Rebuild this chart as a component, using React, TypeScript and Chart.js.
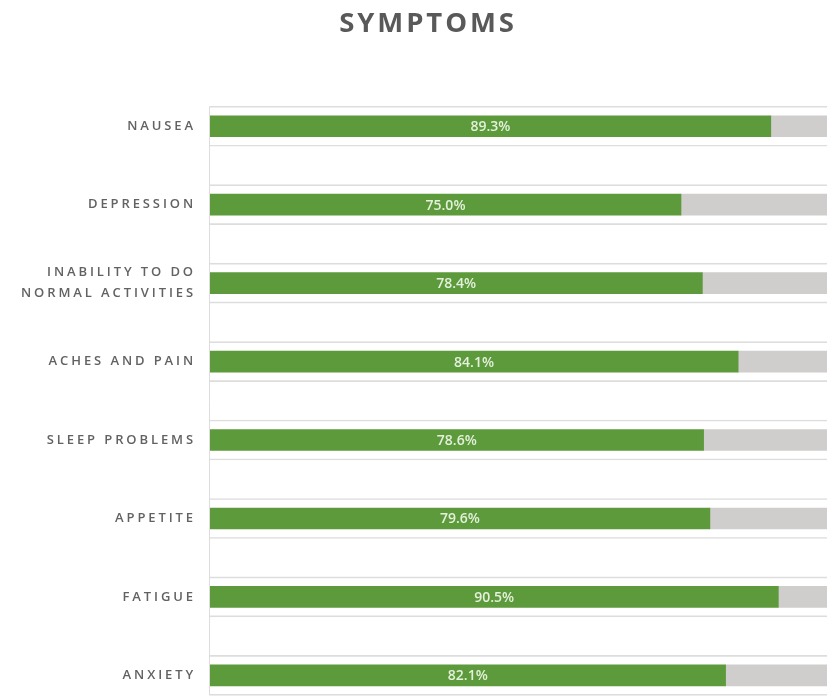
import React, { useEffect, useRef } from 'react';
import { Chart, registerables } from 'chart.js';

Chart.register(...registerables);

const categories: (string | string[])[] = [
  'NAUSEA',
  'DEPRESSION',
  ['INABILITY TO DO', 'NORMAL ACTIVITIES'],
  'ACHES AND PAIN',
  'SLEEP PROBLEMS',
  'APPETITE',
  'FATIGUE',
  'ANXIETY',
];
const values = [89.3, 75.0, 78.4, 84.1, 78.6, 79.6, 90.5, 82.1];
const remainder = values.map((v) => Math.round((100 - v) * 10) / 10);
const frame = values.map(() => 100);

const GREEN = '#5c9a3b';
const GRAY = '#d0cdcd';
const LINE = '#dedddd';
const TEXT = '#595959';
const TICK_TEXT = '#626262';
const FRAME_THICKNESS = 40;

const spacingPlugin = {
  id: 'spacing',
  beforeDraw(chart: any) {
    chart.ctx.letterSpacing = '2.9px';
  },
  afterDraw(chart: any) {
    chart.ctx.letterSpacing = '0px';
  },
};

const framePlugin = {
  id: 'frameLine',
  beforeDatasetsDraw(chart: any) {
    const x = chart.scales.x;
    const y = chart.scales.y;
    const ctx = chart.ctx;
    const left = Math.round(x.getPixelForValue(0)) - 0.5;
    const top = y.getPixelForValue(0) - FRAME_THICKNESS / 2;
    const bottom = y.getPixelForValue(categories.length - 1) + FRAME_THICKNESS / 2;
    ctx.save();
    ctx.strokeStyle = LINE;
    ctx.lineWidth = 1;
    ctx.beginPath();
    ctx.moveTo(left, top);
    ctx.lineTo(left, bottom);
    ctx.stroke();
    ctx.restore();
  },
};

const labelPlugin = {
  id: 'valueLabels',
  afterDatasetsDraw(chart: any) {
    const ctx = chart.ctx;
    const meta = chart.getDatasetMeta(0);
    ctx.save();
    ctx.letterSpacing = '0px';
    ctx.font = '600 14px "Open Sans", sans-serif';
    ctx.fillStyle = '#e4f0dc';
    ctx.textAlign = 'center';
    ctx.textBaseline = 'middle';
    meta.data.forEach((bar: any, i: number) => {
      const c = bar.getCenterPoint();
      ctx.fillText(values[i].toFixed(1) + '%', c.x, c.y + 1);
    });
    ctx.restore();
  },
};

function SymptomsChart() {
  const ref = useRef<HTMLCanvasElement | null>(null);
  useEffect(() => {
    if (!ref.current) return;
    const chart = new Chart(ref.current, {
      type: 'bar',
      data: {
        labels: categories as any,
        datasets: [
          {
            label: 'Yes',
            data: values,
            backgroundColor: GREEN,
            barThickness: 21,
            grouped: false,
            yAxisID: 'y',
            stack: 'main',
            order: 1,
          },
          {
            label: 'No',
            data: remainder,
            backgroundColor: GRAY,
            barThickness: 21,
            grouped: false,
            yAxisID: 'y',
            stack: 'main',
            order: 1,
          },
          {
            label: 'frame',
            data: frame,
            backgroundColor: 'rgba(255,255,255,0)',
            borderColor: LINE,
            borderWidth: { top: 1, bottom: 1, left: 0, right: 0 } as any,
            borderSkipped: false,
            barThickness: FRAME_THICKNESS,
            grouped: false,
            yAxisID: 'y2',
            stack: 'bg',
            order: 2,
          },
        ],
      },
      options: {
        indexAxis: 'y',
        animation: false,
        responsive: false,
        maintainAspectRatio: false,
        layout: { padding: { left: 18, right: 0, top: 0, bottom: 0 } },
        plugins: {
          legend: { display: false },
          tooltip: { enabled: false },
          title: {
            display: true,
            text: 'SYMPTOMS',
            color: TEXT,
            font: { family: '"Open Sans", sans-serif', size: 27.5, weight: 'bold' },
            padding: { top: 8, bottom: 46 },
          },
        },
        scales: {
          x: {
            display: false,
            stacked: true,
            min: 0,
            max: 100,
          },
          y: {
            type: 'category',
            stacked: true,
            offset: true,
            grid: { display: false, drawTicks: false },
            border: { display: false },
            afterFit(scale: any) {
              scale.width = 192;
            },
            ticks: {
              color: TICK_TEXT,
              padding: 14,
              font: { family: '"Open Sans", sans-serif', size: 13, weight: '600', lineHeight: 1.6 },
            },
          },
          y2: {
            type: 'category',
            display: false,
            offset: true,
            stacked: true,
            grid: { display: false },
          },
        },
      },
      plugins: [spacingPlugin, framePlugin, labelPlugin],
    });
    return () => chart.destroy();
  }, []);
  return <canvas ref={ref} width={838} height={739} style={{ display: 'block' }} />;
}

export default function App() {
  return (
    <div
      style={{
        position: 'fixed',
        left: 0,
        top: 0,
        width: 827,
        height: 700,
        overflow: 'hidden',
        background: '#ffffff',
      }}
    >
      <SymptomsChart />
    </div>
  );
}
